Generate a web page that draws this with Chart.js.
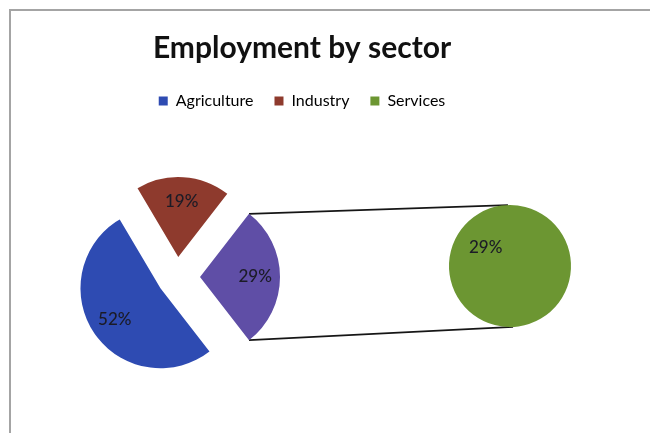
<!DOCTYPE html>
<html>
<head>
<meta charset="utf-8">
<title>Employment by sector</title>
<script src="https://cdn.jsdelivr.net/npm/chart.js@4.4.1/dist/chart.umd.min.js"></script>
<style>
  html, body { margin: 0; padding: 0; background: #ffffff; }
  #stage { position: relative; width: 650px; height: 433px; overflow: hidden; background: #ffffff; }
  #stage canvas { position: absolute; left: 0; top: 0; }
  #frame { position: absolute; left: 9px; top: 9px; width: 700px; height: 480px;
           border-left: 2px solid #a4a4a4; border-top: 2px solid #a4a4a4; }
</style>
</head>
<body>
<div id="stage">
  <div id="frame"></div>
  <canvas id="headCanvas" width="650" height="433"></canvas>
  <canvas id="mainCanvas" width="650" height="433"></canvas>
  <canvas id="splitCanvas" width="650" height="433"></canvas>
</div>
<script>
// Share of employment by sector, in percent
const categories = ['Agriculture', 'Industry', 'Services'];
const shares = [52, 19, 29];

// Second pie: breakdown of the last slice of the first pie
const splitCategories = ['Services'];
const splitShares = [29];

const titleText = 'Employment by sector';

const sectorColors = ['#2e4bb2', '#8e3a2d', '#6c9632'];
const otherColor = '#5f4ea6';
const labelColor = '#1b1b26';

// Arc that is pulled out of the pie by a plain translation along its bisector
class ExplodedArc extends Chart.ArcElement {
  draw(ctx) {
    const shift = this.options.explode || 0;
    const mid = (this.startAngle + this.endAngle) / 2;
    ctx.save();
    ctx.translate(Math.cos(mid) * shift, Math.sin(mid) * shift);
    super.draw(ctx);
    ctx.restore();
  }
}
ExplodedArc.id = 'explodedArc';
ExplodedArc.defaults = { explode: 0 };
Chart.register(ExplodedArc);
Chart.defaults.datasets.pie.dataElementType = 'explodedArc';

// Percentage text placed on each slice
const sliceLabels = {
  id: 'sliceLabels',
  afterDatasetsDraw(chart, args, opts) {
    const ctx = chart.ctx;
    const meta = chart.getDatasetMeta(0);
    const values = chart.data.datasets[0].data;
    ctx.save();
    ctx.font = opts.font;
    ctx.fillStyle = opts.color;
    ctx.textAlign = 'center';
    ctx.textBaseline = 'middle';
    meta.data.forEach((arc, i) => {
      const mid = (arc.startAngle + arc.endAngle) / 2;
      const dist = (arc.options.explode || 0) + arc.outerRadius * opts.fraction;
      ctx.fillText(values[i] + '%', arc.x + Math.cos(mid) * dist, arc.y + Math.sin(mid) * dist);
    });
    ctx.restore();
  }
};

const total = shares.reduce((a, b) => a + b, 0);

const mainChart = new Chart(document.getElementById('mainCanvas'), {
  type: 'pie',
  data: {
    labels: categories,
    datasets: [{
      data: shares,
      backgroundColor: [sectorColors[0], sectorColors[1], otherColor],
      borderWidth: 0,
      explode: [20, 20, 23],
      radius: 80,
      // last slice centred on the right-hand side
      rotation: 90 + 180 * shares[2] / total
    }]
  },
  options: {
    responsive: false,
    animation: false,
    events: [],
    layout: { padding: { left: 0, right: 296, top: 121, bottom: 0 } },
    plugins: {
      legend: { display: false },
      title: { display: false },
      tooltip: { enabled: false },
      sliceLabels: { font: '500 17px Lato', color: labelColor, fraction: 0.69 }
    }
  },
  plugins: [sliceLabels]
});

const splitChart = new Chart(document.getElementById('splitCanvas'), {
  type: 'pie',
  data: {
    labels: splitCategories,
    datasets: [{
      data: splitShares,
      backgroundColor: [sectorColors[2]],
      borderWidth: 0,
      radius: 61,
      rotation: 127
    }]
  },
  options: {
    responsive: false,
    animation: false,
    events: [],
    layout: { padding: { left: 370, right: 0, top: 99, bottom: 0 } },
    plugins: {
      legend: { display: false },
      title: { display: false },
      tooltip: { enabled: false },
      sliceLabels: { font: '500 17px Lato', color: labelColor, fraction: 0.5 }
    }
  },
  plugins: [sliceLabels]
});

// Lines joining the pulled-out slice to the second pie (tangent to its rim)
const connectors = {
  id: 'connectors',
  afterDraw(chart) {
    const src = mainChart.getDatasetMeta(0).data[2];
    const dst = splitChart.getDatasetMeta(0).data[0];
    const shift = src.options.explode || 0;
    const mid = (src.startAngle + src.endAngle) / 2;
    const ox = src.x + Math.cos(mid) * shift;
    const oy = src.y + Math.sin(mid) * shift;
    const r = dst.outerRadius;
    const ctx = chart.ctx;
    ctx.save();
    ctx.strokeStyle = '#161616';
    ctx.lineWidth = 1.8;
    [src.startAngle, src.endAngle].forEach((a, i) => {
      const px = ox + Math.cos(a) * src.outerRadius;
      const py = oy + Math.sin(a) * src.outerRadius;
      const dx = px - dst.x, dy = py - dst.y;
      const phi = Math.atan2(dy, dx);
      const alpha = Math.acos(r / Math.hypot(dx, dy));
      const t = i === 0 ? phi + alpha : phi - alpha;
      ctx.beginPath();
      ctx.moveTo(px, py);
      ctx.lineTo(dst.x + Math.cos(t) * r, dst.y + Math.sin(t) * r);
      ctx.stroke();
    });
    ctx.restore();
  }
};

// Title and legend
new Chart(document.getElementById('headCanvas'), {
  type: 'pie',
  data: { labels: categories, datasets: [] },
  options: {
    responsive: false,
    animation: false,
    events: [],
    layout: { padding: { left: 0, right: 46, top: 30, bottom: 0 } },
    plugins: {
      title: {
        display: true,
        text: titleText,
        color: '#111111',
        font: { family: 'Lato', size: 30, weight: 'bold', lineHeight: 1.2 },
        padding: { top: 0, bottom: 6 }
      },
      legend: {
        display: true,
        position: 'top',
        labels: {
          color: '#1a1a1a',
          font: { family: 'Lato', size: 16 },
          boxWidth: 9,
          boxHeight: 9,
          padding: 21,
          generateLabels: () => categories.map((name, i) => ({
            text: name,
            fillStyle: sectorColors[i],
            strokeStyle: sectorColors[i],
            lineWidth: 0,
            hidden: false,
            index: i
          }))
        }
      },
      tooltip: { enabled: false }
    }
  },
  plugins: [connectors]
});
</script>
</body>
</html>
